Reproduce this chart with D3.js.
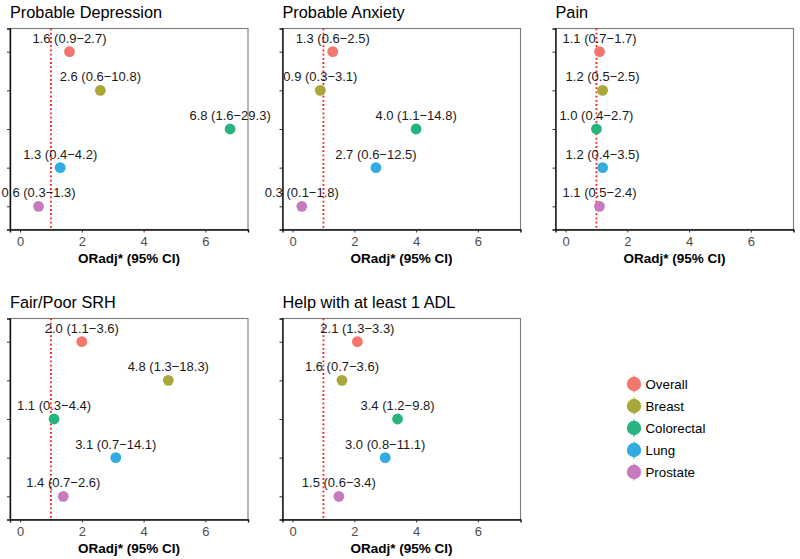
<!DOCTYPE html>
<html>
<head>
<meta charset="utf-8">
<script src="https://cdn.jsdelivr.net/npm/d3@7"></script>
<style>
  body { margin: 0; background: #fff; }
  svg { display: block; font-family: "Liberation Sans", Arial, sans-serif; }
</style>
</head>
<body>
<svg id="chart" width="800" height="559"></svg>
<script>
// ---- Data ----
const groups = ["Overall", "Breast", "Colorectal", "Lung", "Prostate"];
const colors = ["#F4766C", "#A9A73A", "#27B47E", "#31ACE3", "#C77BBE"];
const panelTitles = ["Probable Depression", "Probable Anxiety", "Pain", "Fair/Poor SRH", "Help with at least 1 ADL"];

const depressionOR = [1.6, 2.6, 6.8, 1.3, 0.6];
const depressionLo = [0.9, 0.6, 1.6, 0.4, 0.3];
const depressionHi = [2.7, 10.8, 29.3, 4.2, 1.3];

const anxietyOR = [1.3, 0.9, 4.0, 2.7, 0.3];
const anxietyLo = [0.6, 0.3, 1.1, 0.6, 0.1];
const anxietyHi = [2.5, 3.1, 14.8, 12.5, 1.8];

const painOR = [1.1, 1.2, 1.0, 1.2, 1.1];
const painLo = [0.7, 0.5, 0.4, 0.4, 0.5];
const painHi = [1.7, 2.5, 2.7, 3.5, 2.4];

const srhOR = [2.0, 4.8, 1.1, 3.1, 1.4];
const srhLo = [1.1, 1.3, 0.3, 0.7, 0.7];
const srhHi = [3.6, 18.3, 4.4, 14.1, 2.6];

const adlOR = [2.1, 1.6, 3.4, 3.0, 1.5];
const adlLo = [1.3, 0.7, 1.2, 0.8, 0.6];
const adlHi = [3.3, 3.6, 9.8, 11.1, 3.4];

const xTicks = [0, 2, 4, 6];
const refLine = 1;
const axisTitle = "ORadj* (95% CI)";

const panels = [
  { title: panelTitles[0], or: depressionOR, lo: depressionLo, hi: depressionHi },
  { title: panelTitles[1], or: anxietyOR, lo: anxietyLo, hi: anxietyHi },
  { title: panelTitles[2], or: painOR, lo: painLo, hi: painHi },
  { title: panelTitles[3], or: srhOR, lo: srhLo, hi: srhHi },
  { title: panelTitles[4], or: adlOR, lo: adlLo, hi: adlHi }
];

// ---- Layout ----
const svg = d3.select("#chart");
const pw = 238, ph = 201;
const lefts = [10, 282.5, 555.5];
const tops = [28.5, 318.5];
const fmt = d3.format(".1f");
const color = d3.scaleOrdinal().domain(groups).range(colors);

panels.forEach((p, i) => {
  const col = i % 3, row = Math.floor(i / 3);
  const g = svg.append("g").attr("transform", `translate(${lefts[col]},${tops[row]})`);

  const x = d3.scaleLinear().domain([-0.325, 7.38]).range([0, pw]);
  const y = d3.scalePoint().domain(groups).range([0, ph]).padding(0.6);

  // panel border
  g.append("rect").attr("width", pw).attr("height", ph)
    .attr("fill", "none").attr("stroke", "#7a7a7a").attr("stroke-width", 1.1);

  // axes
  const xAxis = g.append("g").attr("transform", `translate(0,${ph})`)
    .call(d3.axisBottom(x).tickValues(xTicks).tickSize(3).tickPadding(4).tickFormat(d3.format("d")));
  xAxis.select(".domain").attr("stroke", "#111").attr("stroke-width", 1.4);
  xAxis.selectAll(".tick line").attr("stroke", "#333");
  xAxis.selectAll("text").attr("fill", "#4d4d4d").attr("font-size", 13)
    .attr("font-family", "Liberation Sans, Arial, sans-serif");

  const yAxis = g.append("g")
    .call(d3.axisLeft(y).tickSize(3).tickFormat(""));
  yAxis.select(".domain").attr("stroke", "#111").attr("stroke-width", 1.4);
  yAxis.selectAll(".tick line").attr("stroke", "#333");

  // reference line
  g.append("line")
    .attr("x1", x(refLine)).attr("x2", x(refLine))
    .attr("y1", 0).attr("y2", ph)
    .attr("stroke", "#FF1A0A").attr("stroke-width", 1.8)
    .attr("stroke-dasharray", "1.8,2.4");

  // points
  const data = groups.map((gname, k) => ({ group: gname, or: p.or[k], lo: p.lo[k], hi: p.hi[k] }));
  g.selectAll("circle.pt").data(data).enter().append("circle")
    .attr("class", "pt")
    .attr("cx", d => x(d.or)).attr("cy", d => y(d.group))
    .attr("r", 5.4).attr("fill", d => color(d.group));

  g.selectAll("text.lbl").data(data).enter().append("text")
    .attr("class", "lbl")
    .attr("x", d => x(d.or)).attr("y", d => y(d.group) - 9)
    .attr("text-anchor", "middle").attr("font-size", 13).attr("fill", "#1a1a1a")
    .text(d => `${fmt(d.or)} (${fmt(d.lo)}\u2212${fmt(d.hi)})`);

  // title
  g.append("text").attr("x", 0).attr("y", -11)
    .attr("font-size", 16.3).attr("fill", "#000").text(p.title);

  // axis title
  g.append("text").attr("x", pw / 2).attr("y", ph + 33.5)
    .attr("text-anchor", "middle").attr("font-size", 13.5).attr("font-weight", "bold")
    .attr("fill", "#000").text(axisTitle);
});

// ---- Legend ----
const legend = svg.append("g").attr("transform", "translate(634,384)");
groups.forEach((gname, k) => {
  const lg = legend.append("g").attr("transform", `translate(0,${k * 22})`);
  lg.append("line").attr("x1", 0).attr("x2", 0).attr("y1", -8.5).attr("y2", 8.5)
    .attr("stroke", color(gname)).attr("stroke-width", 1.2);
  lg.append("circle").attr("r", 7.2).attr("fill", color(gname));
  lg.append("text").attr("x", 11.5).attr("y", 4.8)
    .attr("font-size", 13.3).attr("fill", "#000").text(gname);
});
</script>
</body>
</html>
